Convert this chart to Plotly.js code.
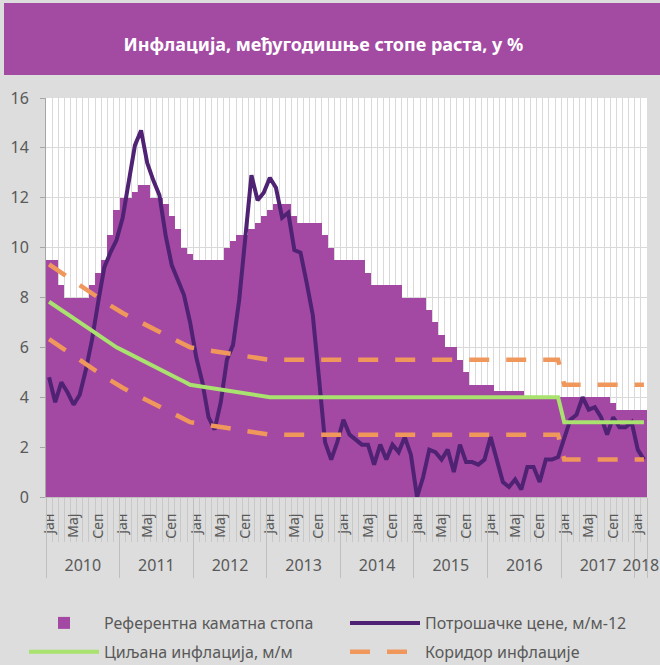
<!DOCTYPE html>
<html>
<head>
<meta charset="utf-8">
<script src="https://cdn.plot.ly/plotly-3.0.1.min.js"></script>
<style>html,body{margin:0;padding:0;background:#dddddd;}#chart{width:660px;height:665px;}</style>
</head>
<body>
<div id="chart"></div>
<script>
// ---- data ----
const chartTitle = 'Инфлација, међугодишње стопе раста, у %';
const years = ['2010','2011','2012','2013','2014','2015','2016','2017','2018'];
const monthAbbr = ['Јан','Феб','Мар','Апр','Мај','Јун','Јул','Авг','Сеп','Окт','Нов','Дец'];
const labelledMonths = ['Јан','Мај','Сеп'];
const monthsInLastYear = 2;
const seriesNames = ['Референтна каматна стопа','Потрошачке цене, м/м-12','Циљана инфлација, м/м','Коридор инфлације'];

const referentRate = [
  9.5, 9.5, 8.5, 8.0, 8.0, 8.0, 8.0, 8.5, 9.0, 9.5, 10.5, 11.5,
  12.0, 12.0, 12.25, 12.5, 12.5, 12.0, 12.0, 11.75, 11.25, 10.75, 10.0, 9.75,
  9.5, 9.5, 9.5, 9.5, 9.5, 10.0, 10.25, 10.5, 10.5, 10.75, 11.0, 11.25,
  11.5, 11.75, 11.75, 11.75, 11.25, 11.0, 11.0, 11.0, 11.0, 10.5, 10.0, 9.5,
  9.5, 9.5, 9.5, 9.5, 9.0, 8.5, 8.5, 8.5, 8.5, 8.5, 8.0, 8.0,
  8.0, 8.0, 7.5, 7.0, 6.5, 6.0, 6.0, 5.5, 5.0, 4.5, 4.5, 4.5,
  4.5, 4.25, 4.25, 4.25, 4.25, 4.25, 4.0, 4.0, 4.0, 4.0, 4.0, 4.0,
  4.0, 4.0, 4.0, 4.0, 4.0, 4.0, 4.0, 4.0, 3.75, 3.5, 3.5, 3.5,
  3.5, 3.5
];
const consumerPrices = [
  4.8, 3.8, 4.6, 4.2, 3.7, 4.1, 5.1, 6.3, 7.8, 9.2, 9.8, 10.3,
  11.2, 12.7, 14.1, 14.7, 13.4, 12.7, 12.1, 10.5, 9.3, 8.7, 8.1, 7.0,
  5.6, 4.6, 3.2, 2.7, 3.8, 5.5, 6.1, 7.9, 10.3, 12.9, 11.9, 12.2,
  12.8, 12.4, 11.2, 11.4, 9.9, 9.8, 8.6, 7.3, 4.8, 2.2, 1.5, 2.2,
  3.1, 2.5, 2.3, 2.1, 2.1, 1.3, 2.1, 1.5, 2.1, 1.8, 2.4, 1.7,
  0.0, 0.8, 1.9, 1.8, 1.5, 1.9, 1.0, 2.1, 1.4, 1.4, 1.3, 1.5,
  2.4, 1.5, 0.6, 0.4, 0.7, 0.3, 1.2, 1.2, 0.6, 1.5, 1.5, 1.6,
  2.4, 3.1, 3.3, 4.0, 3.5, 3.6, 3.2, 2.5, 3.2, 2.8, 2.8, 3.0,
  1.9, 1.5
];
const targetInflation = [
  7.83, 7.67, 7.5, 7.33, 7.17, 7.0, 6.83, 6.67, 6.5, 6.33, 6.17, 6.0,
  5.88, 5.75, 5.63, 5.5, 5.38, 5.25, 5.13, 5.0, 4.88, 4.75, 4.63, 4.5,
  4.46, 4.42, 4.38, 4.33, 4.29, 4.25, 4.21, 4.17, 4.13, 4.08, 4.04, 4.0,
  4.0, 4.0, 4.0, 4.0, 4.0, 4.0, 4.0, 4.0, 4.0, 4.0, 4.0, 4.0,
  4.0, 4.0, 4.0, 4.0, 4.0, 4.0, 4.0, 4.0, 4.0, 4.0, 4.0, 4.0,
  4.0, 4.0, 4.0, 4.0, 4.0, 4.0, 4.0, 4.0, 4.0, 4.0, 4.0, 4.0,
  4.0, 4.0, 4.0, 4.0, 4.0, 4.0, 4.0, 4.0, 4.0, 4.0, 4.0, 4.0,
  3.0, 3.0, 3.0, 3.0, 3.0, 3.0, 3.0, 3.0, 3.0, 3.0, 3.0, 3.0,
  3.0, 3.0
];
const corridorUpper = [
  9.33, 9.17, 9.0, 8.83, 8.67, 8.5, 8.33, 8.17, 8.0, 7.83, 7.67, 7.5,
  7.38, 7.25, 7.13, 7.0, 6.88, 6.75, 6.63, 6.5, 6.38, 6.25, 6.13, 6.0,
  5.96, 5.92, 5.88, 5.83, 5.79, 5.75, 5.71, 5.67, 5.63, 5.58, 5.54, 5.5,
  5.5, 5.5, 5.5, 5.5, 5.5, 5.5, 5.5, 5.5, 5.5, 5.5, 5.5, 5.5,
  5.5, 5.5, 5.5, 5.5, 5.5, 5.5, 5.5, 5.5, 5.5, 5.5, 5.5, 5.5,
  5.5, 5.5, 5.5, 5.5, 5.5, 5.5, 5.5, 5.5, 5.5, 5.5, 5.5, 5.5,
  5.5, 5.5, 5.5, 5.5, 5.5, 5.5, 5.5, 5.5, 5.5, 5.5, 5.5, 5.5,
  4.5, 4.5, 4.5, 4.5, 4.5, 4.5, 4.5, 4.5, 4.5, 4.5, 4.5, 4.5,
  4.5, 4.5
];
const corridorLower = [
  6.33, 6.17, 6.0, 5.83, 5.67, 5.5, 5.33, 5.17, 5.0, 4.83, 4.67, 4.5,
  4.38, 4.25, 4.13, 4.0, 3.88, 3.75, 3.63, 3.5, 3.38, 3.25, 3.13, 3.0,
  2.96, 2.92, 2.88, 2.83, 2.79, 2.75, 2.71, 2.67, 2.63, 2.58, 2.54, 2.5,
  2.5, 2.5, 2.5, 2.5, 2.5, 2.5, 2.5, 2.5, 2.5, 2.5, 2.5, 2.5,
  2.5, 2.5, 2.5, 2.5, 2.5, 2.5, 2.5, 2.5, 2.5, 2.5, 2.5, 2.5,
  2.5, 2.5, 2.5, 2.5, 2.5, 2.5, 2.5, 2.5, 2.5, 2.5, 2.5, 2.5,
  2.5, 2.5, 2.5, 2.5, 2.5, 2.5, 2.5, 2.5, 2.5, 2.5, 2.5, 2.5,
  1.5, 1.5, 1.5, 1.5, 1.5, 1.5, 1.5, 1.5, 1.5, 1.5, 1.5, 1.5,
  1.5, 1.5
];

// ---- period table built from years / months ----
const periods = [];
years.forEach((y, yi) => {
  const n = (yi === years.length - 1) ? monthsInLastYear : monthAbbr.length;
  for (let m = 0; m < n; m++) periods.push({year: y, month: monthAbbr[m]});
});
const xIdx = periods.map((p, i) => i);
const monthTickVals = [], monthTickText = [];
periods.forEach((p, i) => { if (labelledMonths.includes(p.month)) { monthTickVals.push(i); monthTickText.push(p.month); } });
const boundaries = periods.map((p, i) => i - 0.5).concat([periods.length - 0.5]);
const yearStart = {}, yearEnd = {};
periods.forEach((p, i) => { if (!(p.year in yearStart)) yearStart[p.year] = i; yearEnd[p.year] = i; });
const yearBounds = years.map(y => yearStart[y] - 0.5).concat([periods.length - 0.5]);
const yearMid = years.map(y => (yearStart[y] + yearEnd[y]) / 2);

const FONT = 'Noto Sans, Open Sans, sans-serif';
const GRAY = '#595959';
const xr = [-0.5, periods.length - 0.5];

const traces = [
  {type:'bar', x:xIdx, y:referentRate, name:seriesNames[0], marker:{color:'#a349a4', line:{width:0}},
   width:1, legend:'legend', legendgroup:'g1', hoverinfo:'skip'},
  {type:'scatter', mode:'lines', x:xIdx, y:consumerPrices, name:seriesNames[1],
   line:{color:'#4f2274', width:4}, legend:'legend2', legendgroup:'g2'},
  {type:'scatter', mode:'lines', x:xIdx, y:targetInflation, name:seriesNames[2],
   line:{color:'#a9e26f', width:4}, legend:'legend', legendgroup:'g3'},
  {type:'scatter', mode:'lines', x:xIdx, y:corridorUpper, name:seriesNames[3], xaxis:'x2',
   line:{color:'#f0975c', width:4.5, dash:'20px,17px'}, legend:'legend2', legendgroup:'g4'},
  {type:'scatter', mode:'lines', x:xIdx, y:corridorLower, name:seriesNames[3], showlegend:false, xaxis:'x3',
   line:{color:'#f0975c', width:4.5, dash:'20px,17px'}, legend:'legend2', legendgroup:'g4'}
];

const L = 46, R = 13, T = 98, B = 168, W = 660, H = 665;
const pw = W - L - R, ph = H - T - B;
const px2x = p => (p - L) / pw;
const py2y = p => (T + ph - p) / ph;

const legendCommon = {orientation:'v', bgcolor:'rgba(0,0,0,0)', font:{family:FONT, size:16, color:GRAY},
  traceorder:'grouped', tracegroupgap:5, itemwidth:70, xanchor:'left', yanchor:'top'};

const layout = {
  width:W, height:H,
  margin:{l:L, r:R, t:T, b:B, autoexpand:false},
  paper_bgcolor:'#dddddd', plot_bgcolor:'#ffffff',
  bargap:0,
  font:{family:FONT, color:GRAY},
  title:{text:'<b>' + chartTitle + '</b>', font:{family:FONT, size:18, color:'#ffffff'},
         x:0.49, xref:'container', xanchor:'center', y:1 - 45 / H, yref:'container', yanchor:'middle'},
  xaxis:{range:xr, automargin:false, tickmode:'array', tickvals:monthTickVals, ticktext:monthTickText, tickangle:-90,
         showgrid:false, zeroline:false, ticks:'', showline:true, linecolor:'#bfbfbf', linewidth:1,
         tickfont:{family:FONT, size:14, color:GRAY}, ticklabelstandoff:10,
         minor:{tickmode:'array', tickvals:boundaries, showgrid:true, gridcolor:'#d9d9d9', gridwidth:1,
                ticks:'outside', ticklen:44, tickcolor:'#c8c8c8', tickwidth:1}},
  xaxis2:{overlaying:'x', anchor:'y', side:'bottom', range:xr, automargin:false, tickmode:'array', tickvals:yearBounds,
          showticklabels:false, showgrid:false, zeroline:false,
          ticks:'outside', ticklen:80, tickcolor:'#bfbfbf', tickwidth:1},
  xaxis3:{overlaying:'x', anchor:'y', side:'bottom', range:xr, automargin:false, tickmode:'array', tickvals:yearMid, ticktext:years,
          showgrid:false, zeroline:false, ticks:'outside', ticklen:54, tickcolor:'rgba(0,0,0,0)',
          tickfont:{family:FONT, size:16, color:GRAY}},
  yaxis:{range:[0,16], automargin:false, dtick:2, tick0:0, showgrid:true, gridcolor:'#d9d9d9', gridwidth:1, zeroline:false,
         showline:true, linecolor:'#a6a6a6', linewidth:1, ticks:'outside', ticklen:5, tickcolor:'#a6a6a6',
         tickfont:{family:FONT, size:16, color:GRAY}, ticklabelstandoff:8},
  legend: Object.assign({}, legendCommon, {x:px2x(24), y:py2y(606)}),
  legend2: Object.assign({}, legendCommon, {x:px2x(345), y:py2y(606)}),
  shapes:[{type:'rect', xref:'paper', yref:'paper', layer:'below',
           x0:px2x(4), x1:px2x(W), y0:py2y(75), y1:py2y(3),
           fillcolor:'#a34ba3', line:{width:0}}],
  showlegend:true
};

Plotly.newPlot('chart', traces, layout, {displayModeBar:false, staticPlot:true});
</script>
</body>
</html>
